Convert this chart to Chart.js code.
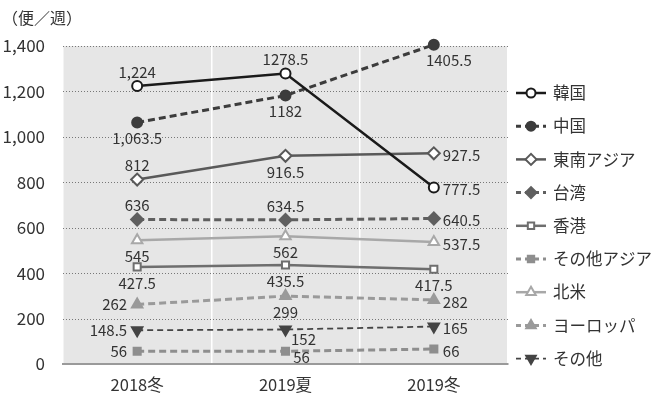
<!DOCTYPE html>
<html>
<head>
<meta charset="utf-8">
<script src="https://cdn.jsdelivr.net/npm/chart.js@4"></script>
<style>
  html, body { margin: 0; padding: 0; background: #fff; }
  #wrap { width: 654px; height: 398px; }
</style>
</head>
<body>
<div id="wrap"><canvas id="chart" width="654" height="398"></canvas></div>
<script>
var categories = ['2018冬', '2019夏', '2019冬'];
var seriesNames = ['韓国', '中国', '東南アジア', '台湾', '香港', 'その他アジア', '北米', 'ヨーロッパ', 'その他'];
var korea = [1224, 1278.5, 777.5];
var china = [1063.5, 1182, 1405.5];
var seAsia = [812, 916.5, 927.5];
var taiwan = [636, 634.5, 640.5];
var hongkong = [427.5, 435.5, 417.5];
var otherAsia = [56, 56, 66];
var northAmerica = [545, 562, 537.5];
var europe = [262, 299, 282];
var others = [148.5, 152, 165];
var yTicks = [0, 200, 400, 600, 800, 1000, 1200, 1400];

var FONT = '"Noto Sans CJK JP", "Noto Sans", sans-serif';

// where each value label sits relative to its point
var labelPos = [
    ['above', 'above', 'right'],
    ['below', 'below', 'br'],
    ['above', 'below', 'right'],
    ['above', 'above', 'right'],
    ['below', 'below', 'below'],
    ['left', 'br3', 'right'],
    ['below', 'below', 'right'],
    ['left', 'below', 'right'],
    ['left', 'br2', 'right']
];
var offsets = {
    above: [0, -14, 'center'],
    below: [0, 16, 'center'],
    right: [9, 2, 'left'],
    left: [-10, 0, 'right'],
    br: [15, 16, 'center'],
    br2: [18, 10, 'center'],
    br3: [16, 6, 'center']
};

function ds(i, data, color, dash, width, style, filled, rot) {
    return {
        label: seriesNames[i],
        data: data,
        borderColor: color,
        borderWidth: width,
        borderDash: dash,
        pointStyle: style,
        pointRotation: rot || 0,
        pointRadius: style === 'rectRot' ? 6 : (style === 'triangle' ? 6 : 5),
        pointBorderWidth: 2,
        pointBorderColor: color,
        pointBackgroundColor: filled ? color : '#ffffff',
        fill: false,
        clip: false,
        tension: 0
    };
}

var datasets = [
    ds(0, korea, '#1a1a1a', [], 2.5, 'circle', false),
    ds(1, china, '#3c3c3c', [7, 4], 3, 'circle', true),
    ds(2, seAsia, '#595959', [], 2.5, 'rectRot', false),
    ds(3, taiwan, '#5f5f5f', [7, 4], 3, 'rectRot', true),
    ds(4, hongkong, '#6e6e6e', [], 2.5, 'rect', false),
    ds(5, otherAsia, '#8e8e8e', [7, 4], 3, 'rect', true),
    ds(6, northAmerica, '#a8a8a8', [], 2.5, 'triangle', false),
    ds(7, europe, '#9a9a9a', [7, 4], 3, 'triangle', true),
    ds(8, others, '#444444', [6, 4], 1.8, 'triangle', true, 180)
];

function fmt(v, i) {
    return i === 0 ? v.toLocaleString('en-US') : String(v);
}

var bgPlugin = {
    id: 'bg',
    beforeDraw: function(chart) {
        var a = chart.chartArea, c = chart.ctx;
        c.save();
        c.fillStyle = '#e6e6e6';
        c.fillRect(a.left, a.top, a.right - a.left, a.bottom - a.top);
        c.restore();
    },
    beforeDatasetsDraw: function(chart) {
        // dotted horizontal grid lines
        var a = chart.chartArea, c = chart.ctx, y = chart.scales.y;
        c.save();
        c.strokeStyle = '#777';
        c.lineWidth = 1;
        c.setLineDash([1, 2]);
        yTicks.forEach(function(v) {
            if (v === 0) return;
            var py = Math.round(y.getPixelForValue(v)) + 0.5;
            c.beginPath();
            c.moveTo(a.left, py);
            c.lineTo(a.right, py);
            c.stroke();
        });
        c.restore();
    }
};

var extrasPlugin = {
    id: 'extras',
    afterDatasetsDraw: function(chart) {
        var c = chart.ctx;
        c.save();
        c.font = '15px ' + FONT;
        c.fillStyle = '#333';
        c.textBaseline = 'middle';
        chart.data.datasets.forEach(function(d, di) {
            var meta = chart.getDatasetMeta(di);
            meta.data.forEach(function(pt, i) {
                var o = offsets[labelPos[di][i]];
                c.textAlign = o[2];
                c.fillText(fmt(d.data[i], i), pt.x + o[0], pt.y + o[1]);
            });
        });
        c.restore();
    },
    afterDraw: function(chart) {
        var c = chart.ctx;
        c.save();
        // unit label
        c.font = '16px ' + FONT;
        c.fillStyle = '#333';
        c.textAlign = 'left';
        c.textBaseline = 'middle';
        c.fillText('（便／週）', 2, 18);
        // legend
        var x0 = 516, y0 = 93, step = 33.2;
        chart.data.datasets.forEach(function(d, i) {
            var y = y0 + i * step;
            c.strokeStyle = d.borderColor;
            c.lineWidth = d.borderWidth;
            c.setLineDash(d.borderDash.length ? [5, 4] : []);
            c.beginPath();
            c.moveTo(x0, y);
            c.lineTo(x0 + 30, y);
            c.stroke();
            c.setLineDash([]);
            c.fillStyle = d.pointBackgroundColor;
            c.strokeStyle = d.pointBorderColor;
            c.lineWidth = 2;
            Chart.helpers.drawPoint(c, {
                pointStyle: d.pointStyle,
                rotation: d.pointRotation,
                radius: d.pointRadius - 0.5,
                borderWidth: 2
            }, x0 + 15, y);
            c.fillStyle = '#333';
            c.font = '16.5px ' + FONT;
            c.fillText(d.label, x0 + 37, y);
        });
        c.restore();
    }
};

new Chart(document.getElementById('chart'), {
    type: 'line',
    data: { labels: categories, datasets: datasets },
    options: {
        responsive: false,
        animation: false,
        layout: { padding: { top: 46, right: 146, left: 0, bottom: 0 } },
        plugins: { legend: { display: false }, tooltip: { enabled: false } },
        scales: {
            x: {
                offset: true,
                grid: { offset: true, color: '#ffffff', lineWidth: 1.5, drawTicks: false },
                border: { display: true, color: '#9a9a9a', width: 2 },
                ticks: { color: '#333', font: { family: FONT, size: 16.5 }, padding: 11 },
                afterFit: function(s) { s.height = 34; }
            },
            y: {
                min: 0,
                max: 1400,
                afterBuildTicks: function(s) { s.ticks = yTicks.map(function(v) { return { value: v }; }); },
                grid: { display: false },
                border: { display: false },
                ticks: {
                    color: '#333',
                    font: { family: FONT, size: 17 },
                    padding: 10,
                    callback: function(v) { return v.toLocaleString('en-US'); }
                },
                afterFit: function(s) { s.width = 63; }
            }
        }
    },
    plugins: [bgPlugin, extrasPlugin]
});
</script>
</body>
</html>
